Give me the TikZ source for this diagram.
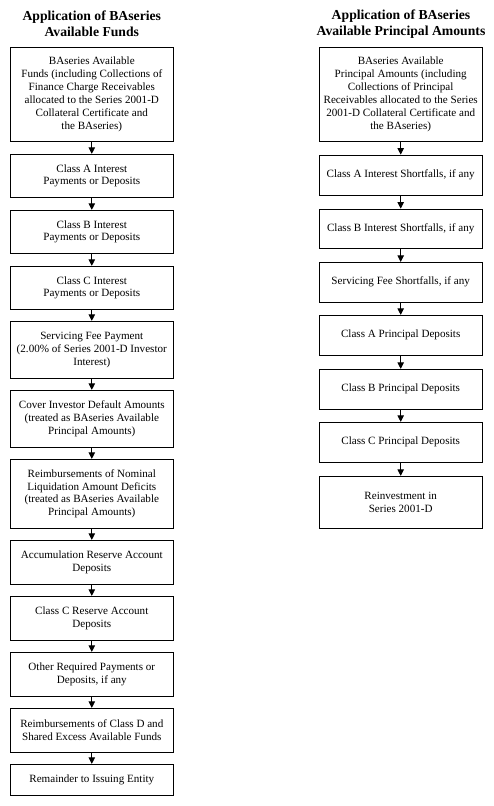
\documentclass[tikz,border=0pt]{standalone}
\usepackage{fontspec}
\setmainfont{Liberation Serif}
\usetikzlibrary{arrows.meta}
\begin{document}
\begin{tikzpicture}[x=1pt,y=1pt,
  box/.style={draw=black,line width=0.9pt,minimum width=163pt,inner sep=1pt,align=center,
    font=\fontsize{11.1}{12.9}\selectfont},
  ttl/.style={align=center,font=\fontsize{13.7}{16}\selectfont\bfseries},
  arr/.style={line width=0.8pt,-{Triangle[length=6.5pt,width=6.5pt]}}]
\useasboundingbox (0,0) rectangle (494,-806);
\node[ttl] (lt) at (91.8,-23.7) {Application of BAseries\\Available Funds};
\node[ttl] (rt) at (401,-23.7) {Application of BAseries\\Available Principal Amounts};
% left column
\node[box,minimum height=93.6pt] (l1) at (91.8,-94.5) {BAseries Available\\Funds (including Collections of\\Finance Charge Receivables\\allocated to the Series 2001-D\\Collateral Certificate and\\the BAseries)};
\node[box,minimum height=43pt] (l2) at (91.8,-175.8) {Class A Interest\\Payments or Deposits};
\node[box,minimum height=43pt] (l3) at (91.8,-231.8) {Class B Interest\\Payments or Deposits};
\node[box,minimum height=43pt] (l4) at (91.8,-287.8) {Class C Interest\\Payments or Deposits};
\node[box,minimum height=57pt] (l5) at (91.8,-349.8) {Servicing Fee Payment\\(2.00\% of Series 2001-D Investor\\Interest)};
\node[box,minimum height=57pt] (l6) at (91.8,-418.8) {Cover Investor Default Amounts\\(treated as BAseries Available\\Principal Amounts)};
\node[box,minimum height=69pt] (l7) at (91.8,-493.8) {Reimbursements of Nominal\\Liquidation Amount Deficits\\(treated as BAseries Available\\Principal Amounts)};
\node[box,minimum height=44pt] (l8) at (91.8,-562.3) {Accumulation Reserve Account\\Deposits};
\node[box,minimum height=44pt] (l9) at (91.8,-618.3) {Class C Reserve Account\\Deposits};
\node[box,minimum height=44pt] (l10) at (91.8,-674.3) {Other Required Payments or\\Deposits, if any};
\node[box,minimum height=44pt] (l11) at (91.8,-730.3) {Reimbursements of Class D and\\Shared Excess Available Funds};
\node[box,minimum height=31.4pt] (l12) at (91.8,-780) {Remainder to Issuing Entity};
\foreach \a/\b in {l1/l2,l2/l3,l3/l4,l4/l5,l5/l6,l6/l7,l7/l8,l8/l9,l9/l10,l10/l11,l11/l12}
  \draw[arr] (\a.south) -- (\b.north);
% right column
\node[box,minimum height=93.6pt] (r1) at (400.7,-94.5) {BAseries Available\\Principal Amounts (including\\Collections of Principal\\Receivables allocated to the Series\\2001-D Collateral Certificate and\\the BAseries)};
\node[box,minimum height=40.3pt] (r2) at (400.7,-175.2) {Class A Interest Shortfalls, if any};
\node[box,minimum height=39.7pt] (r3) at (400.7,-228.9) {Class B Interest Shortfalls, if any};
\node[box,minimum height=39.7pt] (r4) at (400.7,-282.2) {Servicing Fee Shortfalls, if any};
\node[box,minimum height=40pt] (r5) at (400.7,-335.3) {Class A Principal Deposits};
\node[box,minimum height=40pt] (r6) at (400.7,-389.3) {Class B Principal Deposits};
\node[box,minimum height=40pt] (r7) at (400.7,-442.3) {Class C Principal Deposits};
\node[box,minimum height=52pt] (r8) at (400.7,-502.3) {Reinvestment in\\Series 2001-D};
\foreach \a/\b in {r1/r2,r2/r3,r3/r4,r4/r5,r5/r6,r6/r7,r7/r8}
  \draw[arr] (\a.south) -- (\b.north);
\end{tikzpicture}
\end{document}
